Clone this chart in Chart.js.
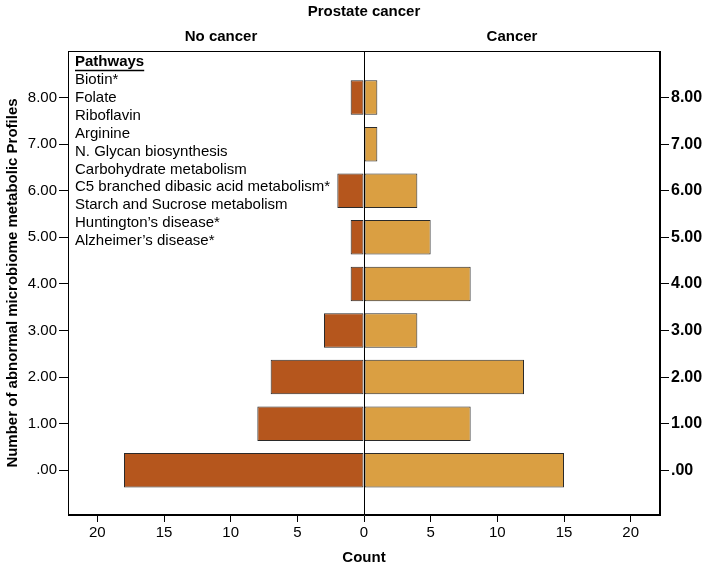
<!DOCTYPE html>
<html>
<head>
<meta charset="utf-8">
<script src="https://cdn.jsdelivr.net/npm/chart.js@4/dist/chart.umd.min.js"></script>
<style>
  html, body { margin: 0; padding: 0; background: #fff; }
  #wrap { width: 712px; height: 567px; }
</style>
</head>
<body>
<div id="wrap"><canvas id="myChart" width="712" height="567"></canvas></div>
<script>
// data
var levels = [0, 1, 2, 3, 4, 5, 6, 7, 8];
var levelLabels = [".00", "1.00", "2.00", "3.00", "4.00", "5.00", "6.00", "7.00", "8.00"];
var noCancer = [18, 8, 7, 3, 1, 1, 2, 0, 1];
var cancer = [15, 8, 12, 4, 8, 5, 4, 1, 1];
var countTicks = [-20, -15, -10, -5, 0, 5, 10, 15, 20];
var groupNames = ["No cancer", "Cancer"];
var pathways = ["Biotin*", "Folate", "Riboflavin", "Arginine", "N. Glycan biosynthesis",
  "Carbohydrate metabolism", "C5 branched dibasic acid metabolism*",
  "Starch and Sucrose metabolism", "Huntington\u2019s disease*", "Alzheimer\u2019s disease*"];

var FONT = "Arial, 'Liberation Sans', sans-serif";

//left side is drawn as negative counts
var leftData = levels.map(function (lv, i) { return { y: lv, x: -noCancer[i] }; });
var rightData = levels.map(function (lv, i) { return { y: lv, x: cancer[i] }; });

function levelTicks(scale) {
  scale.ticks = levels.map(function (v) { return { value: v }; });
}

// frame, centre line, titles and the pathways box
var extras = {
  id: "extras",
  afterDraw: function (chart) {
    var ctx = chart.ctx;
    var a = chart.chartArea;
    var x0 = chart.scales.x.getPixelForValue(0);
    ctx.save();
    ctx.strokeStyle = "#000";
    ctx.lineWidth = 1;
    ctx.strokeRect(a.left + 0.5, a.top + 0.5, a.right - a.left - 1, a.bottom - a.top - 1);
    ctx.beginPath();
    ctx.moveTo(Math.round(x0) + 0.5, a.top);
    ctx.lineTo(Math.round(x0) + 0.5, a.bottom);
    ctx.stroke();

    ctx.fillStyle = "#000";
    ctx.textAlign = "center";
    ctx.textBaseline = "middle";
    ctx.font = "bold 15px " + FONT;
    ctx.fillText("Prostate cancer", x0, 12);
    ctx.fillText(groupNames[0], (a.left + x0) / 2 + 5, 37);
    ctx.fillText(groupNames[1], (x0 + a.right) / 2, 37);

    // pathways list
    ctx.textAlign = "left";
    var lx = a.left + 7;
    var ly = 62;
    ctx.font = "bold 15px " + FONT;
    ctx.fillText("Pathways", lx, ly);
    var w = ctx.measureText("Pathways").width;
    ctx.beginPath();
    ctx.moveTo(lx, ly + 8.5);
    ctx.lineTo(lx + w, ly + 8.5);
    ctx.lineWidth = 1.5;
    ctx.stroke();
    ctx.font = "15px " + FONT;
    for (var i = 0; i < pathways.length; i++) {
      ctx.fillText(pathways[i], lx, ly + 17.9 * (i + 1));
    }
    ctx.restore();
  }
};

var ctx = document.getElementById("myChart").getContext("2d");
var myChart = new Chart(ctx, {
  type: "bar",
  data: {
    datasets: [
      {
        label: groupNames[0],
        data: leftData,
        backgroundColor: "#B5561D",
        borderColor: "#2a2a2a",
        borderWidth: 1,
        borderSkipped: false
      },
      {
        label: groupNames[1],
        data: rightData,
        backgroundColor: "#DA9F42",
        borderColor: "#2a2a2a",
        borderWidth: 1,
        borderSkipped: false
      }
    ]
  },
  options: {
    indexAxis: "y",
    responsive: false,
    animation: false,
    layout: { padding: { top: 51, left: 0, right: 0, bottom: 0 } },
    datasets: { bar: { barPercentage: 0.74, categoryPercentage: 1 } },
    plugins: {
      legend: { display: false },
      tooltip: { enabled: false },
      title: { display: false }
    },
    scales: {
      x: {
        type: "linear",
        stacked: true,
        min: -22.2,
        max: 22.2,
        afterBuildTicks: function (scale) {
          scale.ticks = countTicks.map(function (v) { return { value: v }; });
        },
        afterFit: function (scale) { scale.height = 52; },
        ticks: {
          color: "#000",
          font: { family: FONT, size: 15 },
          padding: 2,
          maxRotation: 0,
          callback: function (v) { return Math.abs(v); }
        },
        grid: { drawOnChartArea: false, color: "#000", tickLength: 7 },
        border: { display: true, color: "#000" },
        title: {
          display: true,
          text: "Count",
          color: "#000",
          font: { family: FONT, size: 15, weight: "bold" },
          padding: { top: 0, bottom: 0 }
        }
      },
      y: {
        type: "linear",
        position: "left",
        stacked: true,
        offset: false,
        min: -0.96,
        max: 9.0,
        afterBuildTicks: levelTicks,
        afterFit: function (scale) { scale.width = 68; },
        ticks: {
          color: "#000",
          font: { family: FONT, size: 15 },
          padding: 2,
          callback: function (v) { return levelLabels[levels.indexOf(v)]; }
        },
        grid: { offset: false, drawOnChartArea: false, color: "#000", tickLength: 9 },
        border: { display: true, color: "#000" },
        title: {
          display: true,
          text: "Number of abnormal microbiome metabolic Profiles",
          color: "#000",
          font: { family: FONT, size: 15, weight: "bold" },
          padding: { top: 4, bottom: 0 }
        }
      },
      y2: {
        type: "linear",
        position: "right",
        offset: false,
        min: -0.96,
        max: 9.0,
        afterBuildTicks: levelTicks,
        afterFit: function (scale) { scale.width = 52; },
        ticks: {
          color: "#000",
          font: { family: FONT, size: 16, weight: "bold" },
          padding: 2,
          callback: function (v) { return levelLabels[levels.indexOf(v)]; }
        },
        grid: { offset: false, drawOnChartArea: false, color: "#000", tickLength: 9 },
        border: { display: true, color: "#000" }
      }
    }
  },
  plugins: [extras]
});
</script>
</body>
</html>
